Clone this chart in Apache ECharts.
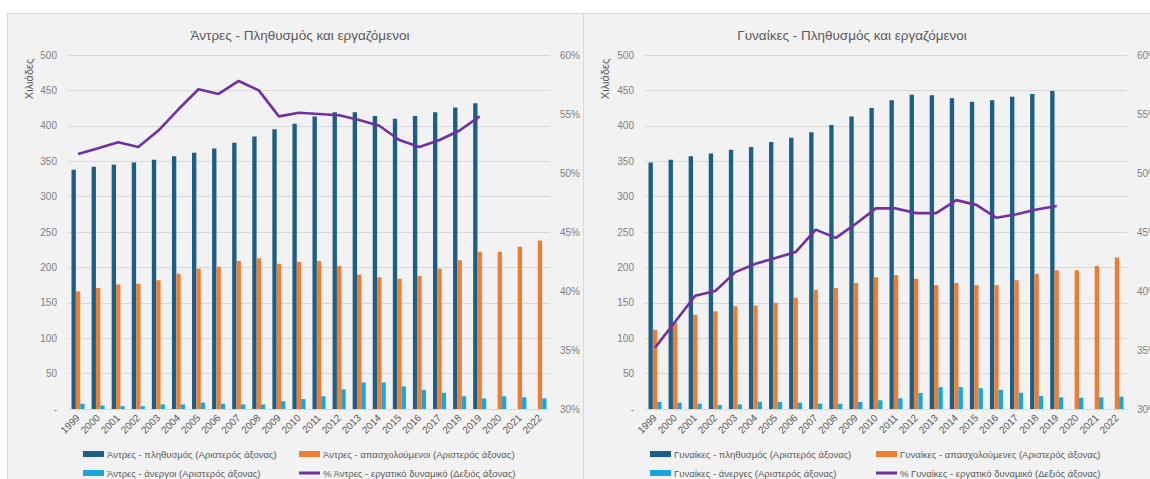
<!DOCTYPE html>
<html>
<head>
<meta charset="utf-8">
<script src="https://cdn.jsdelivr.net/npm/echarts@6/dist/echarts.min.js"></script>
<style>
	html, body {
		margin: 0;
		padding: 0;
		width: 1150px;
		height: 479px;
		overflow: hidden;
		background: #ffffff;
	}
	.panel {
		position: absolute;
		top: 13px;
		height: 480px;
		background: #f2f2f2;
		border: 1px solid #d9d9d9;
	}
	#chartMen { left: 7px; width: 575px; }
	#chartWomen { left: 583px; width: 600px; }
</style>
</head>
<body>
<div id="chartMen" class="panel"></div>
<div id="chartWomen" class="panel"></div>
<script>
	const years = ['1999', '2000', '2001', '2002', '2003', '2004', '2005', '2006', '2007', '2008', '2009', '2010',
		'2011', '2012', '2013', '2014', '2015', '2016', '2017', '2018', '2019', '2020', '2021', '2022'
	];
	const leftTicks = [0, 50, 100, 150, 200, 250, 300, 350, 400, 450, 500];
	const rightTicks = [30, 35, 40, 45, 50, 55, 60];

	// Άντρες (χιλιάδες / %)
	const menPop = [338, 342, 345, 348, 352, 357, 362, 368, 376, 385, 395, 403, 413, 419, 419, 414, 410, 414, 419, 426, 432, null, null, null];
	const menEmp = [166, 171, 176, 177, 182, 191, 198, 201, 209, 213, 205, 208, 209, 202, 190, 186, 184, 188, 198, 210, 222, 222, 229, 238];
	const menUnemp = [7.5, 5, 4, 4, 6.5, 6.5, 9, 7.5, 6.5, 6.5, 11, 14, 18, 28, 37.5, 37.5, 32, 27, 23, 18, 15, 18, 16.5, 15];
	const menRate = [51.6, 52.1, 52.6, 52.2, 53.6, 55.4, 57.1, 56.7, 57.8, 57.0, 54.8, 55.1, 55.0, 54.9, 54.5, 54.0, 52.8, 52.2, 52.8, 53.6, 54.8, null, null, null];

	// Γυναίκες (χιλιάδες / %)
	const womenPop = [348, 352, 357, 361, 366, 370, 377, 383, 391, 401, 413, 425, 436, 444, 443, 439, 434, 436, 441, 445, 449, null, null, null];
	const womenEmp = [112, 122, 133, 138, 145, 146, 150, 157, 168, 171, 178, 186, 189, 184, 175, 178, 175, 175, 182, 191, 196, 196, 202, 214];
	const womenUnemp = [10, 9, 7.5, 5.7, 6.5, 10, 10, 9, 7.5, 7.5, 10, 12.3, 15.2, 22.7, 31, 31, 29.4, 27, 23, 18.5, 16.6, 16, 16.5, 17.5];
	const womenRate = [35.2, 37.4, 39.6, 40.0, 41.6, 42.3, 42.8, 43.3, 45.2, 44.5, 45.7, 47.0, 47.0, 46.6, 46.6, 47.7, 47.3, 46.2, 46.5, 46.9, 47.2, null, null, null];

	const FONT = "'Liberation Sans', Arial, sans-serif";
	const C_DARK = '#1d5e84';
	const C_ORANGE = '#ed7d31';
	const C_LIGHT = '#18a6df';
	const C_PURPLE = '#7030a0';

	function legendItem(name, left, top, isLine) {
		return {
			left: left,
			top: top,
			orient: 'horizontal',
			padding: 0,
			icon: 'rect',
			itemWidth: 21,
			itemHeight: isLine ? 3 : 6,
			itemGap: 3,
			textStyle: {
				fontFamily: FONT,
				fontSize: 9.5,
				color: '#595959',
				padding: [0, 0, 0, -2]
			},
			data: [name]
		};
	}

	function initChart(id, cfg) {
		const dom = document.getElementById(id);
		let chart = echarts.getInstanceByDom(dom);
		if (chart) {
			chart.dispose();
		}
		chart = echarts.init(dom, null, { renderer: 'svg' });

		const option = {
			animation: false,
			backgroundColor: 'transparent',
			title: {
				text: cfg.title,
				left: cfg.titleX,
				top: 9,
				textAlign: 'center',
				textStyle: {
					fontFamily: FONT,
					fontSize: 13.5,
					fontWeight: 'normal',
					color: '#595959'
				}
			},
			graphic: [{
				type: 'text',
				x: 21,
				y: 65,
				rotation: Math.PI / 2,
				style: {
					text: 'Χιλιάδες',
					fill: '#595959',
					font: '11px ' + FONT,
					textAlign: 'center',
					textVerticalAlign: 'middle'
				}
			}],
			legend: [
				legendItem(cfg.names[0], cfg.legX[0], 435, false),
				legendItem(cfg.names[1], cfg.legX[1], 435, false),
				legendItem(cfg.names[2], cfg.legX[0], 454, false),
				legendItem(cfg.names[3], cfg.legX[1], 454, true)
			],
			grid: {
				left: cfg.gridLeft,
				width: 482,
				top: 41,
				height: 354,
				containLabel: false
			},
			xAxis: {
				type: 'category',
				data: years,
				axisLine: {
					show: true,
					lineStyle: { color: '#d9d9d9' }
				},
				axisTick: { show: false },
				axisLabel: {
					rotate: 45,
					margin: 7,
					fontFamily: FONT,
					fontSize: 10,
					color: '#595959'
				},
				splitLine: { show: false }
			},
			yAxis: [{
				type: 'value',
				min: leftTicks[0],
				max: leftTicks[leftTicks.length - 1],
				interval: 50,
				axisLine: { show: false },
				axisTick: { show: false },
				axisLabel: {
					margin: 11,
					fontFamily: FONT,
					fontSize: 10,
					color: '#7f7f7f',
					formatter: (v) => v === 0 ? '-' : v
				},
				splitLine: {
					show: true,
					lineStyle: { color: '#d9d9d9', width: 1 }
				}
			}, {
				type: 'value',
				min: rightTicks[0],
				max: rightTicks[rightTicks.length - 1],
				interval: 5,
				axisLine: { show: false },
				axisTick: { show: false },
				axisLabel: {
					margin: 10,
					fontFamily: FONT,
					fontSize: 10,
					color: '#7f7f7f',
					formatter: (v) => v + '%'
				},
				splitLine: { show: false }
			}],
			series: [{
				name: cfg.names[0],
				type: 'bar',
				yAxisIndex: 0,
				barGap: '0%',
				barCategoryGap: '35%',
				itemStyle: { color: C_DARK },
				data: cfg.pop
			}, {
				name: cfg.names[1],
				type: 'bar',
				yAxisIndex: 0,
				barGap: '0%',
				barCategoryGap: '35%',
				itemStyle: { color: C_ORANGE },
				data: cfg.emp
			}, {
				name: cfg.names[2],
				type: 'bar',
				yAxisIndex: 0,
				barGap: '0%',
				barCategoryGap: '35%',
				itemStyle: { color: C_LIGHT },
				data: cfg.unemp
			}, {
				name: cfg.names[3],
				type: 'line',
				yAxisIndex: 1,
				symbol: 'none',
				z: 5,
				lineStyle: { color: C_PURPLE, width: 2.6 },
				itemStyle: { color: C_PURPLE },
				data: cfg.rate
			}]
		};
		chart.setOption(option);
		return chart;
	}

	initChart('chartMen', {
		title: 'Άντρες - Πληθυσμός και εργαζόμενοι',
		titleX: 287,
		gridLeft: 60,
		legX: [75, 291],
		names: [
			'Άντρες - πληθυσμός (Αριστερός άξονας)',
			'Άντρες - απασχολούμενοι (Αριστερός άξονας)',
			'Άντρες - άνεργοι (Αριστερός άξονας)',
			'% Άντρες - εργατικό δυναμικό (Δεξιός άξονας)'
		],
		pop: menPop,
		emp: menEmp,
		unemp: menUnemp,
		rate: menRate
	});

	initChart('chartWomen', {
		title: 'Γυναίκες - Πληθυσμός και εργαζόμενοι',
		titleX: 263,
		gridLeft: 61,
		legX: [66, 292],
		names: [
			'Γυναίκες - πληθυσμός (Αριστερός άξονας)',
			'Γυναίκες - απασχολούμενες (Αριστερός άξονας)',
			'Γυναίκες - άνεργες (Αριστερός άξονας)',
			'% Γυναίκες - εργατικό δυναμικό (Δεξιός άξονας)'
		],
		pop: womenPop,
		emp: womenEmp,
		unemp: womenUnemp,
		rate: womenRate
	});
</script>
</body>
</html>
